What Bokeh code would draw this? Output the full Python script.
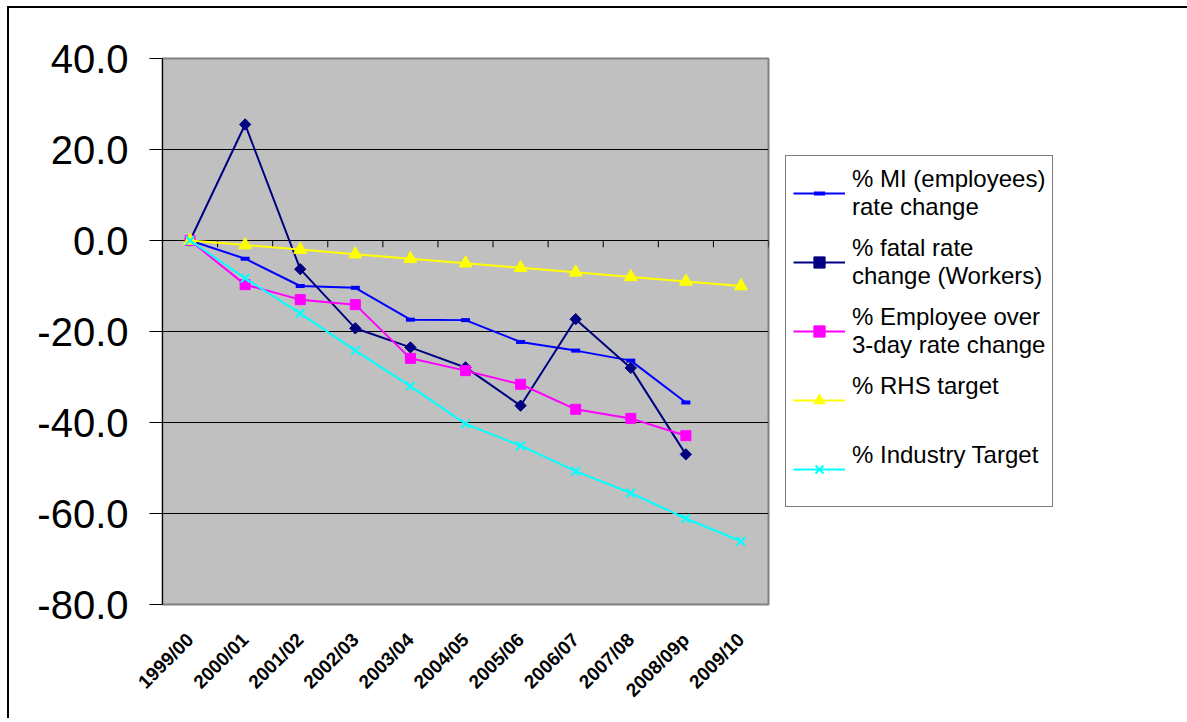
import numpy as np
from bokeh.plotting import figure
from bokeh.models import (ColumnDataSource, FactorRange, Range1d, FixedTicker,
                          NumeralTickFormatter, Legend, LegendItem)
from bokeh.transform import dodge
from bokeh.embed import file_html
from bokeh.resources import INLINE

# Financial years on the category axis
years = ["1999/00", "2000/01", "2001/02", "2002/03", "2003/04", "2004/05",
         "2005/06", "2006/07", "2007/08", "2008/09p", "2009/10"]

# Percentage change against the 1999/00 baseline
mi_employees = [0.0, -4.0, -10.0, -10.4, -17.4, -17.5, -22.3, -24.2, -26.4, -35.6]
fatal_workers = [0.0, 25.5, -6.3, -19.3, -23.5, -27.9, -36.3, -17.3, -28.0, -47.0]
over_3day = [0.0, -9.7, -13.0, -14.1, -25.9, -28.6, -31.6, -37.1, -39.1, -42.9]
rhs_target = [0.0, -1.0, -2.0, -3.0, -4.0, -5.0, -6.0, -7.0, -8.0, -9.0, -10.0]
industry_target = [0.0, -8.3, -16.0, -24.2, -32.0, -40.3, -45.1, -50.7, -55.5, -61.1, -66.1]

y_ticks = [-80, -60, -40, -20, 0, 20, 40]
grid_ticks = [-60, -40, -20, 0, 20]

FONT = "Liberation Sans"

p = figure(frame_width=606, frame_height=546,
           x_range=FactorRange(*years), y_range=Range1d(-80, 40),
           output_backend="svg", toolbar_location=None,
           min_border_left=153, min_border_right=60,
           min_border_top=50, min_border_bottom=114)

# chart border on the page (top and left edges)
p.styles = {"border-left": "2px solid black", "border-top": "2px solid black",
            "margin-left": "7px", "margin-top": "6px"}

p.background_fill_color = "#C0C0C0"
p.border_fill_color = "white"
p.outline_line_color = "#808080"
p.outline_line_width = 2

# value axis
p.yaxis.ticker = FixedTicker(ticks=y_ticks)
p.yaxis.formatter = NumeralTickFormatter(format="0.0")
p.yaxis.major_label_text_font = FONT
p.yaxis.major_label_text_font_size = "40px"
p.yaxis.major_label_text_color = "black"
p.yaxis.major_tick_out = 13
p.yaxis.major_tick_in = 0
p.yaxis.minor_tick_line_color = None
p.yaxis.major_label_standoff = 21
p.yaxis.axis_line_color = "black"
p.yaxis.major_tick_line_color = "black"

# category labels along the bottom, slanted
p.xaxis.major_label_orientation = np.pi / 4
p.xaxis.major_label_text_font = FONT
p.xaxis.major_label_text_font_size = "19px"
p.xaxis.major_label_text_font_style = "bold"
p.xaxis.major_label_text_color = "black"
p.xaxis.axis_line_color = None
p.xaxis.major_tick_line_color = None
p.xaxis.minor_tick_line_color = None
p.xaxis.major_label_standoff = 26

p.xgrid.grid_line_color = None
p.ygrid.ticker = FixedTicker(ticks=grid_ticks)
p.ygrid.grid_line_color = "black"
p.ygrid.grid_line_width = 1

# tick marks on the zero line between the categories
tick_src = ColumnDataSource(dict(cat=years))
p.segment(x0=dodge("cat", -0.5, range=p.x_range), y0=0,
          x1=dodge("cat", -0.5, range=p.x_range), y1=-1.5,
          source=tick_src, line_color="black", line_width=1)
p.segment(x0=dodge("cat", 0.5, range=p.x_range), y0=0,
          x1=dodge("cat", 0.5, range=p.x_range), y1=-1.5,
          source=ColumnDataSource(dict(cat=years[-1:])), line_color="black", line_width=1)

items = []

n = len(mi_employees)
l1 = p.line(years[:n], mi_employees, line_color="#0000FF", line_width=2)
m1 = p.scatter(years[:n], mi_employees, marker="dash", size=9, line_width=4,
               line_color="#0000FF")
items.append(LegendItem(label="% MI (employees)\nrate change", renderers=[l1, m1]))

n = len(fatal_workers)
l2 = p.line(years[:n], fatal_workers, line_color="#000080", line_width=2)
m2 = p.scatter(years[:n], fatal_workers, marker="square", angle=np.pi / 4, size=8,
               fill_color="#000080", line_color="#000080")
items.append(LegendItem(label="% fatal rate\nchange (Workers)", renderers=[l2, m2]))

n = len(over_3day)
l3 = p.line(years[:n], over_3day, line_color="#FF00FF", line_width=2)
m3 = p.scatter(years[:n], over_3day, marker="square", size=10,
               fill_color="#FF00FF", line_color="#FF00FF")
items.append(LegendItem(label="% Employee over\n3-day rate change", renderers=[l3, m3]))

l4 = p.line(years, rhs_target, line_color="#FFFF00", line_width=2)
m4 = p.scatter(years, rhs_target, marker="triangle", size=13,
               fill_color="#FFFF00", line_color="#FFFF00")
items.append(LegendItem(label="% RHS target\n\u00a0", renderers=[l4, m4]))

l5 = p.line(years, industry_target, line_color="#00FFFF", line_width=2)
m5 = p.scatter(years, industry_target, marker="x", size=12, line_width=2,
               line_color="#00FFFF")
items.append(LegendItem(label="% Industry Target\n\u00a0", renderers=[l5, m5]))

legend = Legend(items=items, location="center_left", margin=17,
                label_text_font=FONT, label_text_font_size="24px",
                label_text_color="black", label_text_line_height=1.25,
                glyph_width=52, glyph_height=28, label_standoff=7,
                label_height=60, spacing=9, padding=7,
                border_line_color="black", border_line_width=1,
                background_fill_color="white", background_fill_alpha=1)
p.add_layout(legend, "right")

open("out.html", "w").write(file_html(p, INLINE))
